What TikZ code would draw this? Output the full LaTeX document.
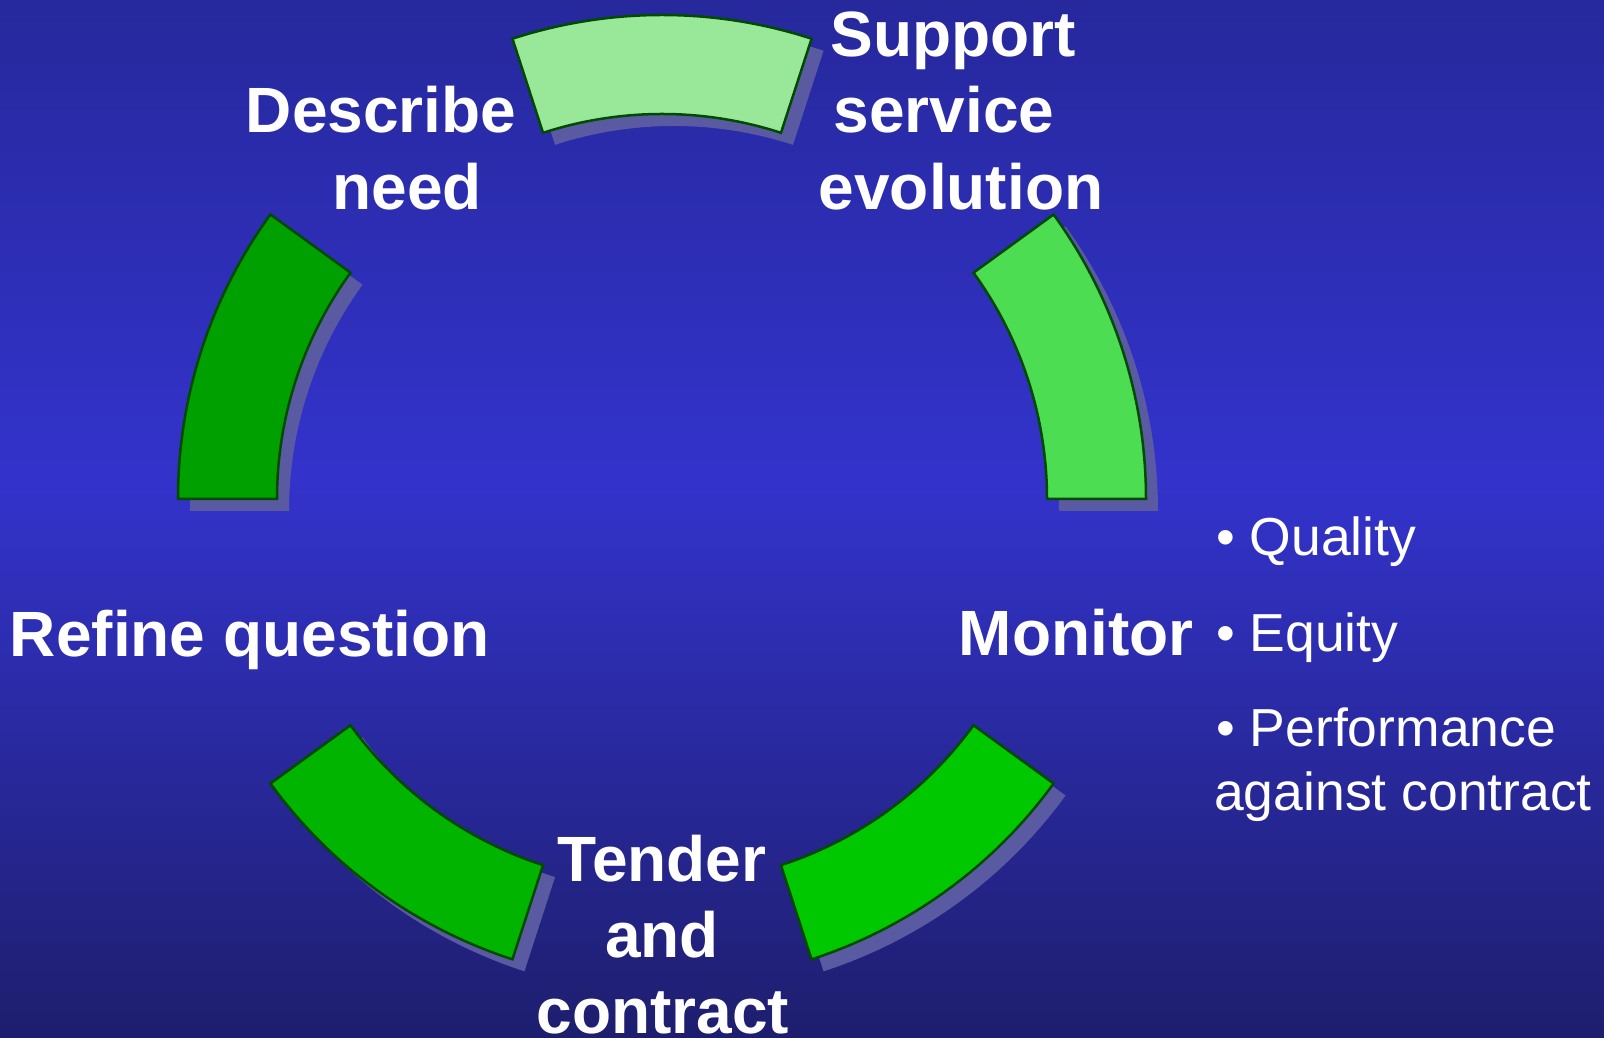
\documentclass[tikz,border=0pt]{standalone}
\usepackage{fontspec}
\setmainfont{Liberation Sans}
\definecolor{bgtop}{RGB}{38,40,156}
\definecolor{bgmid}{RGB}{51,51,204}
\definecolor{bgbot}{RGB}{30,30,110}
\definecolor{shadowc}{RGB}{90,90,162}
\definecolor{segline}{RGB}{0,75,0}
\definecolor{segA}{RGB}{76,221,82}
\definecolor{segB}{RGB}{153,232,153}
\definecolor{segC}{RGB}{0,160,0}
\definecolor{segD}{RGB}{0,180,0}
\definecolor{segE}{RGB}{0,200,0}
\begin{document}
\begin{tikzpicture}[x=1pt,y=1pt,
  seg/.style={draw=segline, line width=2.5pt, line join=miter},
  lab/.style={text=white, font=\fontsize{64}{77}\selectfont\bfseries, inner sep=0pt, anchor=base},
  bul/.style={text=white, font=\fontsize{53.5}{64}\selectfont, inner sep=0pt, anchor=base west}]
\useasboundingbox (0,0) rectangle (1604,1037);
\clip (0,0) rectangle (1604,1037);
% background
\fill[top color=bgtop, bottom color=bgmid] (0,556) rectangle (1604,1037);
\fill[top color=bgmid, bottom color=bgbot] (0,0) rectangle (1604,557);
% shadows
\foreach \a in {0,72,144,216,288} {
  \fill[shadowc, shift={(674,526)}] (\a:484) arc[start angle=\a, end angle=\a+36, radius=484pt]
    -- (\a+36:385) arc[start angle=\a+36, end angle=\a, radius=385pt] -- cycle;
}
% segments
\foreach \a/\c in {0/segA,72/segB,144/segC,216/segD,288/segE} {
  \filldraw[seg, fill=\c, shift={(662,538)}] (\a:484) arc[start angle=\a, end angle=\a+36, radius=484pt]
    -- (\a+36:385) arc[start angle=\a+36, end angle=\a, radius=385pt] -- cycle;
}
% labels
\node[lab] (sup1) at (953,980) {Support};
\node[lab] (sup2) at (944,904) {service};
\node[lab] (sup3) at (961,827) {evolution};
\node[lab] (desc1) at (381,904) {Describe};
\node[lab] (desc2) at (407,827) {need};
\node[lab] (refine) at (250,380) {Refine question};
\node[lab] (monitor) at (1076,381) {Monitor};
\node[lab] (tend1) at (662,156) {Tender};
\node[lab] (tend2) at (662,80) {and};
\node[lab] (tend3) at (663,4) {contract};
% bullets
\node[bul] (b1) at (1216,481) {• Quality};
\node[bul] (b2) at (1216,385) {• Equity};
\node[bul] (b3) at (1216,290) {• Performance};
\node[bul] (b4) at (1214,226) {against contract};
\end{tikzpicture}
\end{document}
